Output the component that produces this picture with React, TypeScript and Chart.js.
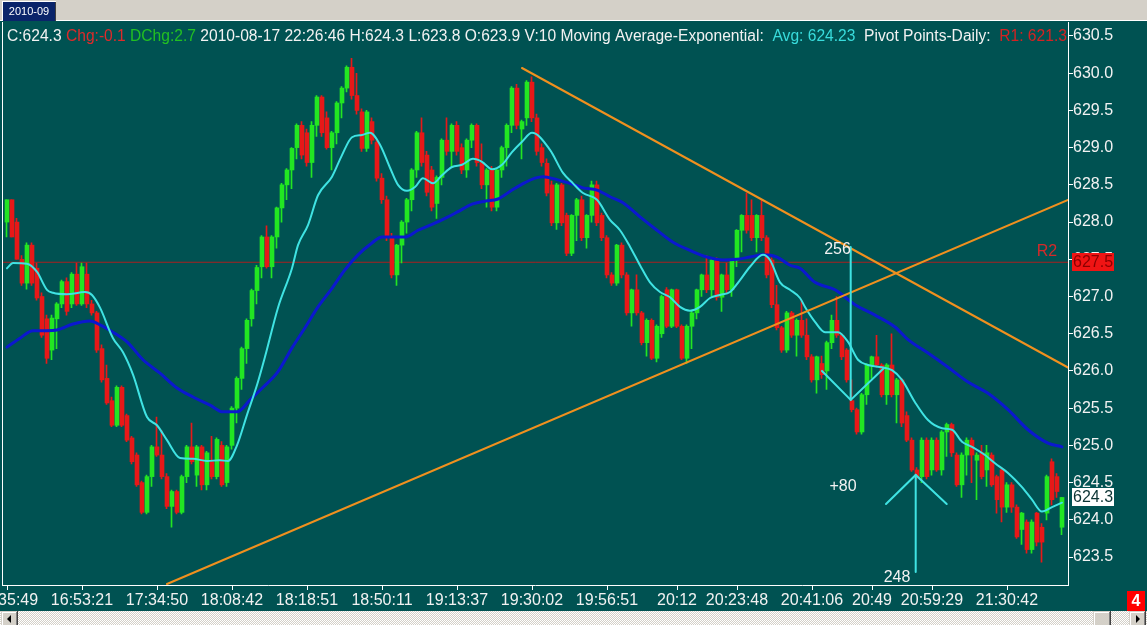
import { useEffect, useRef } from 'react';
import { Chart, registerables } from 'chart.js';

Chart.register(...registerables);

// ---------------- data ----------------
const opens = [
  628.0, 628.3, 628.0, 627.5, 627.18, 627.69, 627.38, 627.0, 626.7, 626.28,
  626.7, 626.9, 627.2, 626.9, 627.3, 626.9, 627.3, 626.9, 626.78, 626.3,
  625.9, 625.6, 625.27, 625.78, 625.4, 625.1, 624.87, 624.5, 624.1, 624.58,
  624.98, 624.87, 624.58, 624.18, 624.38, 624.1, 624.58, 624.98, 624.6, 624.98,
  624.47, 624.78, 624.58, 625.0, 624.5, 625.0, 625.5, 625.9, 626.3, 626.7,
  627.08, 627.4, 627.8, 627.4, 627.8, 628.19, 628.5, 628.7, 629.0, 629.3,
  629.2, 628.8, 629.3, 629.68, 629.4, 629.0, 629.2, 629.6, 629.8, 630.08,
  629.7, 629.48, 628.99, 629.35, 629.07, 628.59, 628.3, 627.8, 627.29, 627.69,
  628.0, 628.3, 628.7, 629.2, 628.9, 628.7, 628.25, 628.6, 629.1, 628.95,
  629.3, 629.0, 628.7, 629.1, 629.3, 628.8, 628.5, 628.7, 628.2, 628.7,
  629.0, 629.3, 629.8, 629.25, 629.4, 629.88, 629.4, 629.0, 628.79, 628.5,
  627.99, 628.5, 628.09, 627.58, 628.09, 628.3, 627.79, 628.09, 628.5, 628.09,
  627.79, 627.29, 627.18, 627.69, 627.29, 626.78, 627.09, 626.78, 626.38, 626.68,
  626.17, 626.5, 627.09, 626.6, 627.09, 626.6, 626.17, 626.6, 626.78, 627.09,
  627.29, 627.09, 627.49, 626.99, 627.29, 627.09, 627.49, 627.89, 628.09, 628.09,
  627.79, 628.09, 627.79, 627.49, 626.89, 626.58, 626.28, 626.78, 626.48, 626.68,
  626.48, 626.19, 625.88, 626.1, 626.0, 626.38, 626.68, 626.48, 626.28, 625.6,
  625.48, 625.18, 625.68, 626.08, 626.19, 626.08, 625.68, 626.08, 625.68, 625.88,
  625.4, 625.07, 624.67, 624.58, 625.07, 624.67, 625.07, 624.67, 625.18, 625.28,
  624.87, 624.47, 624.87, 625.07, 624.8, 624.9, 624.67, 624.87, 624.58, 624.67,
  624.17, 624.47, 624.17, 623.87, 623.97, 623.6, 624.09, 623.9, 624.09, 624.78,
  624.58, 623.9,
];
const highs = [
  628.3, 628.3, 628.05, 627.55, 627.72, 627.72, 627.45, 627.05, 626.75, 626.75,
  626.92, 627.22, 627.25, 627.32, 627.45, 627.45, 627.45, 626.95, 626.8, 626.35,
  626.08, 625.65, 625.8, 625.8, 625.42, 625.12, 624.9, 624.52, 624.6, 625.0,
  625.38, 625.2, 624.62, 624.4, 624.4, 624.6, 625.0, 625.3, 625.0, 625.0,
  624.92, 625.12, 625.1, 625.05, 625.0, 625.52, 625.92, 626.32, 626.7, 627.1,
  627.42, 627.82, 627.95, 627.82, 628.2, 628.52, 628.72, 629.0, 629.32, 629.35,
  629.25, 629.35, 629.7, 629.7, 629.48, 629.22, 629.62, 629.82, 630.1, 630.2,
  630.0, 629.52, 629.5, 629.4, 629.1, 628.65, 628.35, 627.85, 627.7, 628.02,
  628.32, 628.72, 629.22, 629.4, 628.95, 628.75, 628.62, 629.12, 629.4, 629.32,
  629.35, 629.05, 629.12, 629.32, 629.32, 629.05, 628.72, 628.75, 628.72, 629.02,
  629.32, 629.82, 629.85, 629.37, 629.9, 629.95, 629.45, 629.05, 628.85, 628.55,
  628.52, 628.52, 628.12, 628.1, 628.32, 628.35, 628.1, 628.55, 628.55, 628.12,
  627.82, 627.32, 627.7, 627.72, 627.32, 627.1, 627.29, 626.8, 626.7, 626.7,
  626.62, 627.02, 627.12, 627.1, 627.1, 626.62, 626.62, 626.8, 627.1, 627.3,
  627.55, 627.5, 627.52, 627.3, 627.45, 627.5, 627.9, 628.1, 628.39, 628.3,
  628.1, 628.3, 627.82, 627.52, 627.15, 626.6, 626.8, 626.8, 626.7, 626.95,
  626.7, 626.22, 626.2, 626.2, 626.4, 626.75, 627.0, 626.5, 626.3, 625.88,
  625.5, 625.7, 626.1, 626.2, 626.48, 626.1, 626.1, 626.5, 625.9, 625.9,
  625.45, 625.1, 624.7, 625.1, 625.1, 625.1, 625.1, 625.2, 625.3, 625.3,
  624.9, 624.9, 625.1, 625.1, 624.9, 625.0, 625.0, 624.9, 624.6, 624.7,
  624.5, 624.5, 624.2, 624.1, 624.0, 624.0, 624.1, 623.95, 624.6, 624.82,
  624.62, 624.3,
];
const lows = [
  627.8, 627.8, 627.5, 627.15, 627.1, 627.15, 626.95, 626.45, 626.1, 626.15,
  626.3, 626.85, 626.75, 626.85, 626.88, 626.88, 626.85, 626.75, 626.25, 625.85,
  625.55, 625.25, 625.25, 625.25, 625.05, 624.75, 624.45, 624.08, 624.08, 624.45,
  624.85, 624.55, 624.15, 623.9, 624.08, 624.08, 624.5, 624.75, 624.45, 624.4,
  624.4, 624.55, 624.55, 624.45, 624.45, 624.95, 625.3, 625.75, 626.1, 626.6,
  626.9, 627.25, 627.38, 627.25, 627.65, 628.0, 628.3, 628.45, 628.85, 628.85,
  628.75, 628.6, 629.15, 629.15, 628.98, 628.7, 629.05, 629.4, 629.75, 629.65,
  629.45, 628.95, 628.95, 629.05, 628.55, 628.25, 627.75, 627.25, 627.15, 627.45,
  627.85, 628.15, 628.6, 628.75, 628.35, 628.15, 628.05, 628.5, 628.9, 628.75,
  628.9, 628.65, 628.6, 629.0, 628.75, 628.45, 628.2, 628.15, 628.15, 628.6,
  628.75, 629.2, 629.25, 628.85, 629.3, 629.35, 628.9, 628.75, 628.35, 627.95,
  627.9, 627.95, 627.55, 627.55, 627.75, 627.75, 627.65, 628.0, 627.95, 627.75,
  627.25, 627.15, 627.15, 627.25, 626.75, 626.6, 626.75, 626.35, 626.2, 626.15,
  626.12, 626.45, 626.58, 626.58, 626.58, 626.15, 626.1, 626.3, 626.7, 627.0,
  627.05, 627.0, 626.95, 626.8, 627.05, 627.0, 627.4, 627.6, 627.85, 627.75,
  627.6, 627.75, 627.25, 626.85, 626.55, 626.25, 626.25, 626.45, 626.2, 626.45,
  626.15, 625.85, 625.7, 625.9, 625.75, 626.3, 626.45, 626.15, 625.85, 625.45,
  625.15, 625.15, 625.55, 625.9, 626.05, 625.65, 625.55, 625.65, 625.3, 625.25,
  625.05, 624.65, 624.55, 624.5, 624.55, 624.6, 624.65, 624.6, 624.85, 624.85,
  624.45, 624.3, 624.6, 624.5, 624.27, 624.55, 624.45, 624.45, 624.09, 623.97,
  624.1, 624.1, 623.75, 623.67, 623.55, 623.55, 623.65, 623.43, 624.0, 624.2,
  624.3, 623.8,
];
const closes = [
  628.3, 627.8, 627.5, 627.18, 627.69, 627.18, 626.98, 626.48, 626.17, 626.71,
  626.9, 627.2, 626.8, 627.3, 626.9, 627.4, 626.9, 626.78, 626.28, 625.88,
  625.57, 625.27, 625.78, 625.27, 625.07, 624.78, 624.47, 624.1, 624.58, 624.98,
  624.87, 624.58, 624.18, 624.38, 624.1, 624.58, 624.98, 624.78, 624.98, 624.47,
  624.9, 624.58, 625.08, 624.47, 624.98, 625.5, 625.9, 626.3, 626.68, 627.08,
  627.39, 627.8, 627.4, 627.8, 628.19, 628.5, 628.7, 628.99, 629.3, 628.9,
  628.8, 629.3, 629.68, 629.2, 629.0, 629.2, 629.6, 629.8, 630.08, 629.7,
  629.5, 628.99, 629.48, 629.1, 628.59, 628.3, 627.8, 627.29, 627.69, 628.0,
  628.3, 628.7, 629.2, 628.8, 628.4, 628.2, 628.6, 629.1, 628.95, 629.3,
  628.95, 628.7, 629.1, 629.3, 628.8, 628.5, 628.7, 628.2, 628.7, 629.0,
  629.3, 629.8, 629.3, 629.35, 629.88, 629.4, 628.95, 628.8, 628.39, 627.99,
  628.5, 627.99, 627.58, 628.09, 628.3, 627.79, 628.09, 628.5, 627.99, 627.79,
  627.29, 627.18, 627.69, 627.29, 626.78, 627.09, 626.78, 626.38, 626.68, 626.17,
  626.6, 627.0, 626.6, 627.09, 626.6, 626.17, 626.6, 626.78, 627.09, 627.29,
  627.09, 627.49, 626.99, 627.29, 627.09, 627.49, 627.89, 628.09, 627.89, 627.79,
  628.09, 627.79, 627.29, 626.89, 626.58, 626.28, 626.78, 626.48, 626.68, 626.48,
  626.19, 625.88, 626.19, 625.95, 626.38, 626.68, 626.48, 626.19, 625.88, 625.48,
  625.18, 625.68, 626.08, 626.19, 626.08, 625.68, 626.08, 625.68, 625.88, 625.3,
  625.07, 624.67, 624.58, 625.07, 624.58, 625.07, 624.67, 625.18, 625.28, 624.9,
  624.47, 624.87, 625.07, 624.87, 624.87, 624.58, 624.9, 624.47, 624.27, 624.17,
  624.47, 624.17, 623.77, 624.09, 623.6, 623.97, 623.7, 623.7, 624.58, 624.27,
  624.38, 624.3,
];

const emaFastIdx = [
  0, 1.2, 4, 6, 8, 9.2, 12, 15.6, 17, 18.6, 21.2, 23.2, 25.2, 28, 30, 32, 34.6, 37.2, 40, 42.6,
  44.2, 46, 48, 50, 51.6, 54.2, 57, 58.2, 60.2, 62.2, 65, 67, 69, 71, 72.6, 74.6, 76.6, 78.2, 80, 81.6,
  83.2, 85.2, 87, 89, 91, 93.2, 95, 97, 99, 101, 103, 105, 108.6, 111.2, 113.2, 115.2, 118, 120.6, 122.6, 124.6,
  126.6, 128.6, 130.6, 132.6, 134.6, 136.6, 138.6, 140.6, 142.6, 144.6, 146.6, 148.6, 151.2, 152.6, 154.6, 156.6, 158.6, 159.6, 161.6, 163.6,
  166.2, 168.2, 170.2, 172.2, 175, 177, 179, 181.6, 184.2, 187, 189, 191, 193, 195.6, 197.6, 200.2, 203, 205, 207, 209,
  211,
];
const emaFastVal = [
  627.38, 627.45, 627.44, 627.33, 627.09, 627.05, 627.03, 627.06, 627.02, 626.85, 626.44, 626.25, 625.95, 625.38, 625.27, 625.07, 624.83, 624.82, 624.79, 624.80,
  624.79, 625.00, 625.41, 625.81, 626.19, 626.85, 627.38, 627.69, 627.96, 628.36, 628.61, 628.90, 629.14, 629.17, 629.20, 629.04, 628.73, 628.50, 628.42, 628.47,
  628.59, 628.52, 628.63, 628.74, 628.77, 628.85, 628.81, 628.71, 628.77, 628.94, 629.08, 629.20, 628.97, 628.66, 628.52, 628.39, 628.30, 628.03, 627.89, 627.67,
  627.42, 627.19, 627.06, 626.99, 626.86, 626.81, 626.86, 626.98, 627.02, 627.06, 627.22, 627.40, 627.56, 627.49, 627.19, 627.09, 626.98, 626.86, 626.66, 626.52,
  626.52, 626.39, 626.15, 626.08, 626.05, 626.01, 625.88, 625.58, 625.34, 625.23, 625.21, 625.05, 624.98, 624.87, 624.76, 624.63, 624.44, 624.27, 624.11, 624.17,
  624.23,
];
const emaSlowIdx = [
  0, 2.6, 5.2, 8, 10, 13.2, 16.6, 18.6, 21.2, 24, 27.2, 30.6, 34, 37.2, 40.6, 43.2, 46, 48.6, 51.2, 54.2,
  57, 59.6, 62.2, 65, 67.6, 70.2, 73, 75, 77, 79.6, 82.2, 85, 87.6, 90.2, 93, 95.6, 98.2, 101, 103.6, 105.6,
  107.2, 110, 112.6, 115.2, 118, 120.6, 123.2, 126.6, 130, 133.2, 136.6, 140, 143.2, 146, 148.6, 151.2, 154, 156.6, 158.6, 161.6,
  165.6, 169.6, 173.6, 177.6, 180.2, 184.2, 188.2, 192.2, 196.2, 200.2, 204.2, 208.2, 211,
];
const emaSlowVal = [
  626.32, 626.44, 626.54, 626.54, 626.55, 626.63, 626.67, 626.62, 626.52, 626.39, 626.15, 625.97, 625.77, 625.65, 625.54, 625.45, 625.45, 625.61, 625.78, 625.99,
  626.31, 626.58, 626.86, 627.11, 627.36, 627.56, 627.72, 627.80, 627.80, 627.80, 627.89, 627.97, 628.05, 628.14, 628.24, 628.28, 628.31, 628.43, 628.53, 628.59,
  628.61, 628.57, 628.52, 628.46, 628.43, 628.34, 628.26, 628.07, 627.89, 627.73, 627.62, 627.53, 627.49, 627.50, 627.53, 627.56, 627.53, 627.42, 627.38, 627.19,
  627.09, 626.89, 626.75, 626.59, 626.42, 626.24, 626.05, 625.85, 625.70, 625.48, 625.21, 625.03, 624.98,
];

const priceTicks = [623.5, 624.0, 624.5, 625.0, 625.5, 626.0, 626.5, 627.0, 627.5, 628.0, 628.5, 629.0, 629.5, 630.0, 630.5];
const timeTickIndex = [0, 15, 30, 45, 60, 75, 90, 105, 120, 134, 146, 161, 173, 185, 200];
const timeTickLabels = ['16:35:49', '16:53:21', '17:34:50', '18:08:42', '18:18:51', '18:50:11', '19:13:37', '19:30:02',
  '19:56:51', '20:12', '20:23:48', '20:41:06', '20:49', '20:59:29', '21:30:42'];

const pivotR2 = 627.46;
const supportLine = [[32, 623.137], [212.2, 628.297]];
const resistLine = [[103, 630.07], [212.2, 626.046]];
const markAStem = [[168.74, 627.665], [168.74, 625.61]];
const markAVee = [[163, 626.0], [168.74, 625.61], [175.4, 626.039]];
const markBStem = [[181.74, 624.602], [181.74, 623.299]];
const markBHead = [[175.8, 624.212], [181.74, 624.602], [187.94, 624.212]];
const noteTexts = ['256', '+80', '248'];
const noteIdx = [166.1, 167.2, 178];
const notePrice = [627.625, 624.44, 623.22];

const headerTexts = ['C:624.3 ', 'Chg:-0.1 ', 'DChg:2.7 ',
  '2010-08-17 22:26:46 H:624.3 L:623.8 O:623.9 V:10 Moving Average-Exponential:  ',
  'Avg: 624.23', '  Pivot Points-Daily:  ', 'R1: 621.3'];

// ---------------- styling ----------------
const W = 1147;
const H = 625;
const FONT = 'Arial, "Liberation Sans", sans-serif';
const TEAL = '#005252';
const WHITE = '#f2f2f2';
const UP = '#22e622';
const DOWN = '#e81818';
const CYAN = '#3fe3e3';
const BLUE = '#0b18cf';
const ORANGE = '#f0901e';
const headerColors = [WHITE, '#e02a2a', '#22c022', WHITE, '#38dcdc', WHITE, '#d42222'];

const X_MIN = -1;
const X_MAX = 212.2;
const Y_MIN = 623.124;
const Y_MAX = 630.688;

const pts = (a: number[][]) => a.map(([x, y]) => ({ x, y }));

function winButton(ctx: CanvasRenderingContext2D, x: number, y: number, w: number, h: number) {
  ctx.fillStyle = '#d4d0c8';
  ctx.fillRect(x, y, w, h);
  ctx.fillStyle = '#ffffff';
  ctx.fillRect(x + 1, y + 1, w - 2, 1);
  ctx.fillRect(x + 1, y + 1, 1, h - 2);
  ctx.fillStyle = '#404040';
  ctx.fillRect(x, y + h - 1, w, 1);
  ctx.fillRect(x + w - 1, y, 1, h);
  ctx.fillStyle = '#808080';
  ctx.fillRect(x + 1, y + h - 2, w - 2, 1);
  ctx.fillRect(x + w - 2, y + 1, 1, h - 2);
}

const chromePlugin = {
  id: 'chrome',
  beforeDraw(chart: any) {
    const ctx: CanvasRenderingContext2D = chart.ctx;
    ctx.save();
    ctx.fillStyle = '#d4d0c8';
    ctx.fillRect(0, 0, W, 22);
    ctx.fillStyle = '#ffffff';
    ctx.fillRect(0, 20, W, 1);
    ctx.fillStyle = TEAL;
    ctx.fillRect(0, 21, W, 611 - 21);
    // tab
    ctx.fillStyle = '#ffffff';
    ctx.fillRect(2, 1, 54, 1);
    ctx.fillRect(2, 1, 1, 20);
    ctx.fillStyle = '#0a246a';
    ctx.fillRect(3, 2, 52, 19);
    ctx.fillStyle = '#404040';
    ctx.fillRect(55, 2, 1, 19);
    ctx.fillStyle = '#ffffff';
    ctx.font = `11px ${FONT}`;
    ctx.textAlign = 'center';
    ctx.textBaseline = 'alphabetic';
    ctx.fillText('2010-09', 29, 15);
    ctx.restore();
  },
  beforeDatasetDraw(chart: any, args: any) {
    if (chart.data.datasets[args.index].label === 'wick') {
      chart.ctx.save();
      chart.ctx.translate(-0.5, 0);
    }
  },
  afterDatasetDraw(chart: any, args: any) {
    if (chart.data.datasets[args.index].label === 'wick') {
      chart.ctx.restore();
    }
  },
  afterDraw(chart: any) {
    const ctx: CanvasRenderingContext2D = chart.ctx;
    const xs = chart.scales.x;
    const ys = chart.scales.y;
    const area = chart.chartArea;
    ctx.save();

    // left border
    ctx.fillStyle = '#ffffff';
    ctx.fillRect(area.left, area.top, 1, area.bottom - area.top + 1);

    // header
    ctx.save();
    ctx.beginPath();
    ctx.rect(0, 21, area.right, 30);
    ctx.clip();
    ctx.font = `15.6px ${FONT}`;
    ctx.textAlign = 'left';
    ctx.textBaseline = 'alphabetic';
    let hx = 7;
    headerTexts.forEach((t, k) => {
      ctx.fillStyle = headerColors[k];
      ctx.fillText(t, hx, 41);
      hx += ctx.measureText(t).width;
    });
    ctx.restore();

    // notes on the plot
    ctx.font = `16px ${FONT}`;
    ctx.textAlign = 'center';
    ctx.textBaseline = 'middle';
    ctx.fillStyle = WHITE;
    noteTexts.forEach((t, k) => {
      ctx.fillText(t, xs.getPixelForValue(noteIdx[k]), ys.getPixelForValue(notePrice[k]));
    });
    ctx.fillStyle = '#d42a2a';
    ctx.fillText('R2', xs.getPixelForValue(208), ys.getPixelForValue(627.6));

    // time labels
    ctx.fillStyle = WHITE;
    ctx.textBaseline = 'alphabetic';
    timeTickIndex.forEach((v, k) => {
      ctx.fillText(timeTickLabels[k], xs.getPixelForValue(v), 605);
    });

    // price boxes on the axis
    ctx.textAlign = 'left';
    ctx.textBaseline = 'middle';
    const yr = Math.round(ys.getPixelForValue(pivotR2));
    ctx.fillStyle = '#f01414';
    ctx.fillRect(1072, yr - 9, 42, 18);
    ctx.fillStyle = '#8a0000';
    ctx.fillText(pivotR2.toFixed(1), 1073, yr + 1);
    const last = closes[closes.length - 1];
    const yl = Math.round(ys.getPixelForValue(last));
    ctx.fillStyle = '#ffffff';
    ctx.fillRect(1072, yl - 9, 42, 18);
    ctx.fillStyle = '#0c3434';
    ctx.fillText(last.toFixed(1), 1073, yl + 1);

    // red counter box
    ctx.fillStyle = '#ff0000';
    ctx.fillRect(1127, 591, 18, 20);
    ctx.fillStyle = '#ffffff';
    ctx.textAlign = 'center';
    ctx.font = `bold 16px ${FONT}`;
    ctx.fillText('4', 1136, 602);

    // scrollbar
    const pc = document.createElement('canvas');
    pc.width = 2;
    pc.height = 2;
    const p = pc.getContext('2d')!;
    p.fillStyle = '#d4d0c8';
    p.fillRect(0, 0, 2, 2);
    p.fillStyle = '#ffffff';
    p.fillRect(0, 0, 1, 1);
    p.fillRect(1, 1, 1, 1);
    ctx.fillStyle = ctx.createPattern(pc, 'repeat')!;
    ctx.fillRect(0, 611, W, H - 611);
    winButton(ctx, 1, 611, 17, 17);
    winButton(ctx, 1129, 611, 17, 17);
    winButton(ctx, 1093, 611, 18, 17);
    ctx.fillStyle = '#000000';
    ctx.beginPath();
    ctx.moveTo(7, 619);
    ctx.lineTo(11, 615);
    ctx.lineTo(11, 623);
    ctx.closePath();
    ctx.fill();
    ctx.beginPath();
    ctx.moveTo(1140, 619);
    ctx.lineTo(1136, 615);
    ctx.lineTo(1136, 623);
    ctx.closePath();
    ctx.fill();

    ctx.restore();
  },
};

export default function App() {
  const ref = useRef<HTMLCanvasElement>(null);

  useEffect(() => {
    document.body.style.margin = '0';
    const canvas = ref.current!;
    const idx = opens.map((_, i) => i);
    const colors = idx.map((i) => (closes[i] >= opens[i] ? UP : DOWN));

    const lineBase = { type: 'line' as const, pointRadius: 0, fill: false, borderCapStyle: 'round' as const };

    const chart = new Chart(canvas, {
      type: 'bar',
      data: {
        datasets: [
          { ...lineBase, label: 'r2', data: [{ x: X_MIN, y: pivotR2 }, { x: X_MAX, y: pivotR2 }], borderColor: '#a82020', borderWidth: 1, order: 11 } as any,
          {
            type: 'bar', label: 'wick', data: idx.map((i) => ({ x: i, y: [lows[i], highs[i]] })) as any,
            backgroundColor: colors, barThickness: 1, grouped: false, borderWidth: 0, order: 10,
          },
          {
            type: 'bar', label: 'body', data: idx.map((i) => ({ x: i, y: [opens[i], closes[i]] })) as any,
            backgroundColor: colors, barThickness: 4, grouped: false, borderWidth: 0, order: 9,
          },
          {
            ...lineBase, label: 'emaSlow', data: emaSlowIdx.map((x, k) => ({ x, y: emaSlowVal[k] })),
            borderColor: BLUE, borderWidth: 3, cubicInterpolationMode: 'monotone', order: 5,
          } as any,
          {
            ...lineBase, label: 'emaFast', data: emaFastIdx.map((x, k) => ({ x, y: emaFastVal[k] })),
            borderColor: CYAN, borderWidth: 2, cubicInterpolationMode: 'monotone', order: 4,
          } as any,
          { ...lineBase, label: 'support', data: pts(supportLine), borderColor: ORANGE, borderWidth: 2, order: 3 } as any,
          { ...lineBase, label: 'resist', data: pts(resistLine), borderColor: ORANGE, borderWidth: 2, order: 3 } as any,
          { ...lineBase, label: 'aStem', data: pts(markAStem), borderColor: CYAN, borderWidth: 2, order: 2 } as any,
          { ...lineBase, label: 'aVee', data: pts(markAVee), borderColor: CYAN, borderWidth: 2, order: 2 } as any,
          { ...lineBase, label: 'bStem', data: pts(markBStem), borderColor: CYAN, borderWidth: 2, order: 2 } as any,
          { ...lineBase, label: 'bHead', data: pts(markBHead), borderColor: CYAN, borderWidth: 2, order: 2 } as any,
        ],
      },
      options: {
        animation: false,
        responsive: false,
        devicePixelRatio: 1,
        events: [],
        layout: { padding: { top: 22, left: 2, right: 0, bottom: 0 } },
        plugins: { legend: { display: false }, tooltip: { enabled: false } },
        scales: {
          x: {
            type: 'linear',
            min: X_MIN,
            max: X_MAX,
            offset: false,
            grid: { offset: false, drawOnChartArea: false, drawTicks: true, tickLength: 5, color: '#ffffff' },
            border: { color: '#ffffff', width: 1 },
            ticks: { display: false },
            afterBuildTicks: (s: any) => {
              s.ticks = timeTickIndex.map((v) => ({ value: v }));
            },
            afterFit: (s: any) => {
              s.height = 40;
            },
          },
          y: {
            type: 'linear',
            position: 'right',
            min: Y_MIN,
            max: Y_MAX,
            grid: { drawOnChartArea: false, drawTicks: true, tickLength: 5, color: '#ffffff' },
            border: { color: '#ffffff', width: 1 },
            ticks: {
              color: WHITE,
              padding: 0,
              autoSkip: false,
              font: { family: FONT, size: 16 },
              callback: (v: any) => Number(v).toFixed(1),
            },
            afterBuildTicks: (s: any) => {
              s.ticks = priceTicks.map((v) => ({ value: v }));
            },
            afterFit: (s: any) => {
              s.width = 79;
            },
          },
        },
      },
      plugins: [chromePlugin],
    });
    return () => chart.destroy();
  }, []);

  return (
    <div style={{ position: 'absolute', left: 0, top: 0, width: W, height: H, overflow: 'hidden' }}>
      <canvas ref={ref} width={W} height={H} style={{ display: 'block', width: W, height: H }} />
    </div>
  );
}
